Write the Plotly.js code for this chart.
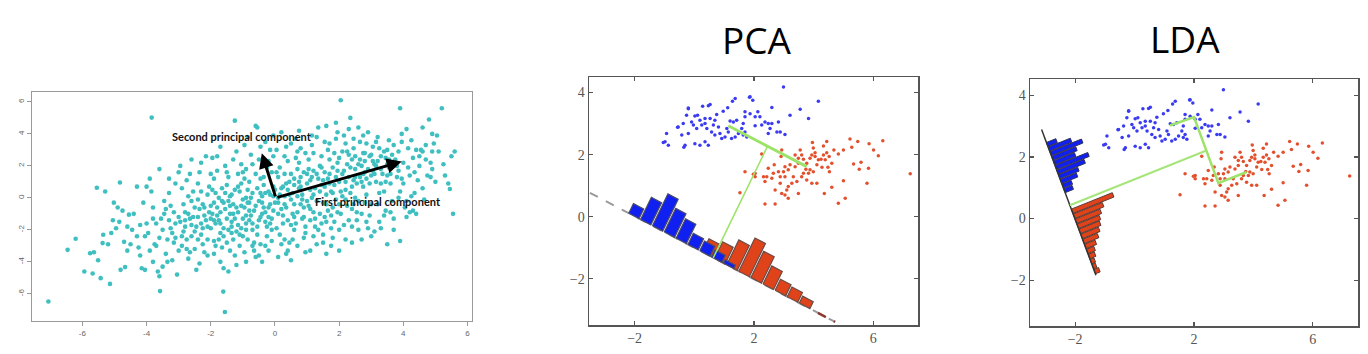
<!DOCTYPE html>
<html>
<head>
<meta charset="utf-8">
<script src="https://cdn.plot.ly/plotly-3.0.1.min.js"></script>
<style>html,body{margin:0;padding:0;background:#fff;}#chart{width:1368px;height:354px;}</style>
</head>
<body>
<div id="chart"></div>
<script>
// ---------- DATA ----------
// Left panel: correlated 2-D cloud (x, y)
const cloudPoints = [
[-7.06,-6.48],[-6.46,-3.25],[-6.21,-2.56],[-5.94,-4.6],[-5.76,-3.46],[-5.64,-3.4],[-5.51,-3.9],[-5.68,-4.73],[-5.43,-5.02],[-5.14,-5.38],[-5.55,0.63],[-5.29,0.4],[-5.37,-2.83],[-5.35,-2.31],[-5.2,-2.9],[-5.05,-1.4],[-5.02,-0.3],[-5.1,-2.2],
[-4.83,0.96],[-4.81,-4.5],[-4.67,-4.33],[-4.9,-0.6],[-4.75,-0.8],[-4.7,-2.75],[-4.6,-1.8],[-4.85,-1.5],[-4.55,-1.05],[-4.4,-1.0],[-4.3,0.7],[-4.25,-3.1],[-4.2,-3.6],[-4.15,-4.4],[-4.05,-4.5],[-4.0,0.7],[-4.1,-0.3],[-4.45,-2.0],[-4.3,-2.4],[-4.95,-1.9],[-4.6,-3.3],[-4.05,-2.4],[-4.0,-1.6],
[-3.84,5.02],[-3.58,-5.83],[-3.9,1.2],[-3.85,0.4],[-3.8,-0.6],[-3.75,-2.9],[-3.7,-3.0],[-3.65,-4.6],[-3.6,1.8],[-3.55,-1.3],[-3.5,-2.0],[-3.45,-1.0],[-3.4,-3.5],[-3.35,-4.0],[-3.3,0.3],[-3.25,-0.5],[-3.2,-2.2],[-3.15,-2.8],[-3.1,-1.6],[-3.05,-4.8],[-3.0,-1.2],[-3.95,-2.2],[-3.9,-3.3],[-3.7,-1.6],[-3.45,-0.2],[-3.35,-2.6],[-3.2,-3.9],[-3.1,0.9],[-3.6,-4.9],[-3.8,-4.0],[-3.0,-3.3],[-3.25,-1.9],[-3.5,-4.3],[-3.15,-0.9],
[-2.95,2.0],[-2.9,0.6],[-2.85,-0.4],[-2.8,-1.8],[-2.75,-2.6],[-2.7,-3.8],[-2.65,1.5],[-2.6,-0.2],[-2.55,-1.2],[-2.5,-2.1],[-2.45,-4.5],[-2.4,0.9],[-2.35,-0.7],[-2.3,-1.6],[-2.25,-2.9],[-2.2,-3.4],[-2.15,2.6],[-2.1,0.2],[-2.05,-0.9],[-2.0,-1.9],[-2.9,-3.0],[-2.8,-0.9],[-2.7,0.1],[-2.6,-2.4],[-2.5,-3.2],[-2.4,-0.1],[-2.3,-2.3],[-2.2,-1.1],[-2.1,-2.6],[-2.0,-0.5],[-2.95,-1.5],[-2.85,-2.1],[-2.75,1.1],[-2.65,-1.3],[-2.55,0.4],[-2.45,-1.8],[-2.35,1.6],[-2.25,-0.4],[-2.15,-1.4],[-2.05,0.7],[-2.65,-3.4],[-2.35,-4.1],[-2.1,-3.6],
[-1.25,4.83],[-1.56,-7.14],[-1.61,-5.86],[-1.95,2.5],[-1.9,1.2],[-1.85,0.3],[-1.8,-0.6],[-1.75,-1.4],[-1.7,-2.2],[-1.65,-3.1],[-1.6,-4.4],[-1.55,2.0],[-1.5,0.8],[-1.45,-0.2],[-1.4,-1.0],[-1.35,-1.8],[-1.3,-2.6],[-1.25,-3.6],[-1.2,2.9],[-1.15,1.5],[-1.1,0.4],[-1.05,-0.5],[-1.0,-1.3],[-1.95,-1.0],[-1.9,-2.7],[-1.85,-1.6],[-1.8,1.7],[-1.75,0.0],[-1.7,-0.9],[-1.65,0.6],[-1.6,-1.9],[-1.55,-0.7],[-1.5,-2.8],[-1.45,1.3],[-1.4,-3.3],[-1.35,0.2],[-1.3,-0.4],[-1.25,-1.3],[-1.2,-2.1],[-1.15,-0.9],[-1.1,-3.0],[-1.05,0.9],[-1.0,-2.4],[-1.9,-3.5],[-1.7,-4.0],[-1.45,-4.6],[-1.2,-4.2],[-1.8,2.6],[-1.3,2.4],[-1.05,2.1],[-1.6,-0.3],[-1.35,-1.5],[-1.15,-1.7],
[-0.95,3.3],[-0.9,1.8],[-0.85,0.5],[-0.8,-0.3],[-0.75,-1.1],[-0.7,-2.0],[-0.65,-2.8],[-0.6,-3.7],[-0.55,4.4],[-0.5,2.4],[-0.45,1.2],[-0.4,0.1],[-0.35,-0.6],[-0.3,-1.5],[-0.25,-2.4],[-0.2,-3.3],[-0.15,3.0],[-0.1,1.6],[-0.05,0.7],[0.0,-0.3],[-0.95,-0.6],[-0.9,-1.6],[-0.85,-2.6],[-0.8,1.0],[-0.75,2.7],[-0.7,0.3],[-0.65,-0.8],[-0.6,1.5],[-0.55,-1.8],[-0.5,-0.2],[-0.45,-2.9],[-0.4,2.0],[-0.35,0.8],[-0.3,-0.9],[-0.25,1.9],[-0.2,-1.2],[-0.15,0.2],[-0.1,-2.0],[-0.05,-0.8],[-0.95,-3.4],[-0.7,-3.0],[-0.5,-3.6],[-0.3,-3.0],[-0.1,-2.7],[-0.6,4.5],[-0.3,3.5],[-0.05,2.6],[-0.9,0.0],[-0.55,0.6],[-0.2,0.4],[-0.8,-1.4],[-0.45,-1.2],[-0.15,-1.6],
[0.05,3.0],[0.1,1.3],[0.15,0.2],[0.2,-0.7],[0.25,-1.6],[0.3,-2.6],[0.35,-3.5],[0.4,2.3],[0.45,1.0],[0.5,-0.1],[0.55,-1.0],[0.6,-2.0],[0.65,3.7],[0.7,1.8],[0.75,0.6],[0.8,-0.4],[0.85,-1.3],[0.9,-2.5],[0.95,2.8],[1.0,0.9],[0.05,-1.9],[0.1,-0.3],[0.15,1.9],[0.2,-2.9],[0.25,0.7],[0.3,2.6],[0.35,-0.6],[0.4,-1.4],[0.45,-2.8],[0.5,1.5],[0.55,0.3],[0.6,-0.4],[0.65,-1.6],[0.7,-0.9],[0.75,2.2],[0.8,1.3],[0.85,0.2],[0.9,-0.6],[0.95,-1.8],[1.0,-0.2],[0.2,4.1],[0.5,3.4],[0.8,3.1],[0.1,-3.7],[0.4,-3.3],[0.7,-3.0],[0.95,-3.4],[0.3,0.1],[0.6,0.8],[0.9,1.6],
[1.05,2.4],[1.1,1.1],[1.15,0.0],[1.2,-0.9],[1.25,-1.8],[1.3,-2.9],[1.35,4.4],[1.4,2.0],[1.45,0.8],[1.5,-0.3],[1.55,-1.2],[1.6,-3.5],[1.65,3.0],[1.7,1.5],[1.75,0.4],[1.8,-0.6],[1.85,-1.5],[1.9,3.7],[1.95,2.2],[2.0,1.0],[1.05,-0.5],[1.1,-1.4],[1.15,3.3],[1.2,1.7],[1.25,0.6],[1.3,-0.2],[1.35,1.2],[1.4,-1.0],[1.45,2.6],[1.5,-2.3],[1.55,1.6],[1.6,0.2],[1.65,-0.8],[1.7,2.4],[1.75,-1.9],[1.8,1.9],[1.85,0.8],[1.9,-0.1],[1.95,-0.9],[2.0,-2.0],[1.3,3.8],[1.6,4.5],[1.9,4.7],[1.2,-2.4],[1.5,-2.8],[1.8,-2.5],[1.45,-1.6],[1.75,-1.1],
[2.05,6.1],[2.1,2.9],[2.15,1.7],[2.2,0.5],[2.25,-0.5],[2.3,-1.4],[2.35,5.0],[2.4,2.4],[2.45,1.1],[2.5,0.0],[2.55,-0.9],[2.6,-2.0],[2.65,3.5],[2.7,2.0],[2.75,0.7],[2.8,-0.3],[2.85,-1.5],[2.9,4.1],[2.95,2.6],[3.0,1.4],[2.05,-1.0],[2.1,0.1],[2.15,3.9],[2.2,-2.6],[2.25,2.1],[2.3,1.3],[2.35,0.3],[2.4,-0.7],[2.45,3.1],[2.5,1.8],[2.55,0.9],[2.6,-0.2],[2.65,1.3],[2.7,-1.0],[2.75,2.8],[2.8,1.6],[2.85,0.2],[2.9,-1.9],[2.95,0.9],[3.0,-0.4],[2.3,4.3],[2.6,4.4],[2.85,3.4],[2.4,-1.8],[2.7,-2.6],[3.0,-2.4],[2.2,-0.1],[2.5,2.6],[2.8,2.3],
[3.05,3.2],[3.1,2.1],[3.15,1.0],[3.2,-0.4],[3.25,-1.5],[3.3,2.6],[3.35,1.5],[3.4,0.4],[3.45,-0.8],[3.5,3.0],[3.55,1.9],[3.6,0.9],[3.65,-0.2],[3.7,-1.3],[3.75,2.4],[3.8,1.3],[3.85,0.0],[3.9,5.6],[3.95,3.5],[4.0,2.2],[3.1,-2.1],[3.2,3.8],[3.3,0.9],[3.4,-1.1],[3.5,2.1],[3.6,-0.9],[3.7,3.3],[3.8,2.0],[3.9,0.4],[3.5,-2.9],[3.9,-2.7],[3.25,0.3],[3.6,1.5],[3.05,1.7],[3.85,2.9],[3.45,2.5],
[4.1,4.3],[4.15,3.1],[4.2,1.4],[4.25,0.1],[4.3,-0.8],[4.4,3.0],[4.5,2.0],[4.6,0.6],[4.7,3.3],[4.8,4.9],[4.85,2.2],[4.9,4.0],[4.95,3.4],[5.0,1.0],[5.2,5.6],[5.25,2.1],[5.4,0.9],[5.5,2.6],[5.55,-1.0],[5.6,2.9],[5.45,0.55],[4.1,-1.2],[4.2,-0.9],[4.45,1.1],[4.6,2.9],[4.75,1.4],[4.85,1.3],[4.0,0.9],[4.3,2.5],[4.55,3.0],[4.05,-0.6],[4.35,0.3],[4.65,-0.1],[5.05,3.9],[4.25,3.6],[4.15,1.9],
[-2.8,-1.4],[-2.6,-1.7],[-2.4,-2.6],[-2.2,-0.6],[-2.0,-1.3],[-1.9,-0.3],[-1.8,-1.1],[-1.7,-1.6],[-1.6,-2.4],[-1.5,-1.3],[-1.4,0.1],[-1.3,-1.0],[-1.2,-0.6],[-1.1,-2.3],[-1.0,-0.1],[-0.9,-2.0],[-0.8,-0.8],[-0.7,-1.6],[-0.6,-0.5],[-0.5,-1.4],[-0.4,-0.3],[-0.3,0.3],[-0.2,-0.6],[-0.1,-1.3],[0.0,0.5],[0.1,-1.0],[0.2,0.6],[0.3,-0.4],[0.4,0.5],[0.5,-1.7],[0.6,1.2],[0.7,0.1],[0.8,0.7],[0.9,-1.2],[1.0,1.5],[1.1,0.5],[1.2,0.2],[1.3,1.5],[1.4,0.4],[1.5,1.1],[1.6,-0.4],[1.7,0.9],[1.8,0.3],[1.9,1.3],[2.0,2.5],[2.1,1.5],[2.2,1.0],[2.3,2.7],[2.4,0.7],[2.5,1.3],[2.6,2.1],[2.7,1.0],[2.8,2.8],[2.9,1.8],[3.0,2.7],[3.1,1.5],[3.2,2.3],[3.3,1.8],[3.4,2.9],[3.5,1.4],
[-2.9,-2.4],[-2.7,-1.0],[-2.5,-0.6],[-2.3,0.4],[-2.1,-1.8],[-1.95,0.5],[-1.75,-2.6],[-1.55,0.3],[-1.35,-2.2],[-1.15,0.7],[-0.95,1.2],[-0.75,0.0],[-0.55,-2.3],[-0.35,1.3],[-0.15,-0.4],[0.05,1.6],[0.25,-1.1],[0.45,0.2],[0.65,2.5],[0.85,-0.1],[1.05,1.8],[1.25,-1.3],[1.45,1.9],[1.65,1.2],[1.85,2.8],[2.05,0.4],[2.25,2.9],[2.45,-0.4],[2.65,2.4],[2.85,1.2],[3.05,2.3],[3.25,3.1],[3.45,1.0],[3.65,2.7],[3.85,1.7],
[-2.75,-3.2],[-2.25,-1.9],[-1.85,-3.0],[-1.45,-2.0],[-1.05,-1.9],[-0.65,-3.3],[-0.25,-1.8],[0.15,-2.3],[0.55,-2.6],[0.95,-2.2],[1.35,-2.0],[1.75,-3.0],[2.15,-1.7],[2.55,-1.4],[2.95,-1.1],[-0.85,3.8],[-0.45,3.2],[-0.05,3.9],[0.35,3.2],[0.75,4.2],[1.15,3.9],[1.55,3.5],[1.95,4.1],[2.45,3.7],[2.75,3.9],[3.15,3.5],[3.55,3.6],
[-3.3,-1.4],[-3.1,-2.5],[-3.4,-0.7],[-3.6,-2.5],[-3.8,-1.3],[-4.2,-1.7],[-4.5,-2.9],[-0.9,-4.0],[-0.4,-4.0],[0.5,-3.9],[1.1,-3.3],[2.0,-3.3],[2.4,-2.8],[3.3,-1.9],[3.7,-2.0],[4.4,-1.0],[4.1,-0.2],[4.35,1.6],[4.5,2.6],[4.7,2.4],[4.9,1.8],[5.1,2.9],[5.3,1.4],[3.95,4.0],[4.6,4.4],[4.9,2.9],
[-1.7,3.2],[-2.3,2.2],[-2.6,2.4],[-3.0,1.6],[-3.3,1.2],[-2.0,1.5],[-1.5,1.6],[-1.0,1.6],[-0.7,2.1],[-0.2,2.3],[0.3,1.5],[0.7,2.9],[1.2,2.8],[1.7,3.4],[2.2,3.4],[2.0,-0.4],[1.6,-1.5],[1.1,-0.7],[0.6,-1.2],[0.1,0.0],[-0.4,-1.0],[-0.9,-1.1],[-1.4,-0.5],[-1.9,-1.4],[-2.4,-1.2],[-1.65,-0.2],[-1.25,0.5],[-0.85,-0.3],[-0.45,0.3],[-0.05,0.1],[0.35,0.9],[0.75,1.0],[1.15,1.3],[1.55,0.7],[1.95,1.7],[2.35,1.9],[2.75,1.5],[3.15,2.0],[3.55,2.4],[3.95,1.2]
];
// principal component arrows: [tailX, tailY, tipX, tipY]
const pc1Arrow = [0.03, 0.0, 3.95, 2.27];
const pc2Arrow = [0.03, 0.0, -0.41, 2.79];
const leftXTicks = [-6,-4,-2,0,2,4,6];
const leftXTickText = ['-6','-4','-2','0','2','4','6'];
const leftYTicks = [-6,-4,-2,0,2,4,6];
const leftYTickText = ['-6','-4','-2','0','2','4','6'];

// Two-class data shared by the PCA and LDA panels
const bluePoints = [
[2.99,4.18],[4.16,3.72],[3.55,3.46],[3.21,3.27],[3.83,3.16],[2.6,3.52],[1.87,3.86],[1.96,3.75],[1.37,3.81],[1.28,3.72],[0.53,3.61],[0.47,3.57],[0.28,3.56],[-0.2,3.48],[-0.26,3.27],[0.02,3.24],[0.11,3.27],[0.75,3.29],[0.97,3.4],[1.12,3.51],[1.7,3.38],[1.87,3.32],[2.13,3.38],[2.04,3.22],[2.2,3.22],[1.7,3.22],[2.37,3.05],[2.48,3.0],[2.6,3.0],[2.82,3.05],[2.04,2.93],[1.64,3.0],[1.42,3.11],[1.31,3.05],[1.2,3.08],[1.59,2.84],[1.7,2.73],[1.76,2.57],[1.64,2.63],[2.48,2.68],[2.77,2.73],[2.88,2.73],[3.04,2.65],[-0.93,2.68],[-0.98,2.41],[-0.87,2.3],[-0.54,2.89],[-0.42,2.63],[-0.2,2.68],[-0.31,2.3],[0.02,2.35],[0.19,2.3],[0.47,2.3],[0.36,2.41],[-0.03,2.95],[0.08,2.84],[0.25,2.95],[0.36,3.0],[0.42,2.84],[0.58,2.73],[0.69,2.63],[0.86,2.68],[0.92,2.52],[1.03,2.57],[1.09,2.84],[1.14,2.73],[0.81,2.89],[0.64,2.95],[0.69,3.11],[0.53,3.16],[0.36,3.16],[0.19,3.11],[-0.09,3.05],[-0.37,3.0],[1.37,2.57],[1.25,2.52],[1.48,2.68],[2.26,2.95],[2.54,2.84],[1.85,3.85],[-1.04,2.39],[-0.35,2.24],[-0.56,2.88],[-0.2,3.5]
];
const redPoints = [
[5.22,2.5],[5.48,2.42],[5.86,2.35],[6.32,2.45],[6.01,2.15],[6.17,1.96],[7.24,1.38],[5.28,2.24],[5.0,2.15],[4.83,2.02],[4.44,2.42],[4.68,2.15],[4.44,2.06],[4.33,1.99],[4.25,1.85],[4.16,1.83],[4.39,1.83],[4.52,1.94],[4.61,1.72],[4.48,1.59],[4.28,1.59],[4.53,1.45],[3.99,2.21],[4.05,2.06],[3.94,1.99],[3.88,1.88],[4.05,1.94],[3.55,2.15],[3.6,1.99],[3.66,1.85],[3.49,1.72],[3.77,1.72],[3.74,1.53],[3.88,1.51],[3.99,1.45],[3.83,1.4],[3.66,1.4],[3.6,1.29],[3.77,1.18],[3.94,1.08],[4.11,1.08],[3.38,1.61],[3.21,1.67],[3.04,1.61],[3.15,1.51],[2.99,1.45],[2.82,1.45],[2.65,1.4],[2.68,1.67],[2.48,1.56],[2.43,1.29],[2.6,1.24],[2.88,1.29],[3.04,1.29],[3.32,1.29],[3.44,1.13],[3.27,1.08],[3.15,0.97],[3.1,0.86],[3.04,0.7],[3.15,0.59],[2.93,0.75],[2.71,0.86],[2.88,1.08],[2.37,1.13],[2.32,1.29],[2.04,1.4],[1.7,1.45],[1.53,0.77],[2.04,1.29],[2.71,0.41],[3.49,0.75],[4.11,1.67],[4.36,0.75],[4.61,0.95],[5.0,1.16],[5.06,0.59],[4.83,0.43],[5.34,1.7],[5.59,1.75],[5.53,1.53],[5.84,1.56],[5.79,1.08],[2.91,1.94],[2.93,2.15],[3.49,1.88],[3.38,1.99],[3.96,2.39],[4.33,2.28],[2.37,0.41],[1.98,1.37],[2.26,2.02]
];
// PCA panel: projection axis end points, class means, histogram bins along the axis
const pcaAxisStart = [-3.5, 0.77];
const pcaAxisEnd = [4.72, -3.39];
const pcaBlueMean = [1.14, 2.93];
const pcaRedMean = [3.77, 1.61];
const pcaBlueBinStart = 1.43, pcaBlueBinWidth = 0.445;
const pcaBlueCounts = [0.35, 0.8, 1.15, 0.85, 0.7, 0.4, 0.35, 0.25, 0.12];
const pcaRedBinStart = 4.2, pcaRedBinWidth = 0.455;
const pcaRedCounts = [0.48, 0.6, 0.9, 1.2, 0.95, 0.65, 0.4, 0.35, 0.25];
// LDA panel
const ldaAxisStart = [-3.13, 2.89];
const ldaAxisEnd = [-1.30, -1.84];
const ldaMeanPath = [[1.19,3.02],[2.0,3.29],[2.82,1.15],[3.77,1.51]];
const ldaMidpoint = [2.42, 2.21];
const ldaBlueBinStart = 0.44, ldaBlueBinWidth = 0.161;
const ldaBlueCounts = [0.34, 0.8, 1.14, 0.87, 0.76, 1.18, 0.98, 0.69, 0.58, 0.33, 0.3];
const ldaRedBinStart = 2.76, ldaRedBinWidth = 0.175;
const ldaRedCounts = [1.48, 1.05, 0.9, 0.8, 0.74, 0.64, 0.53, 0.38, 0.27, 0.22, 0.14, 0.12, 0.17];
const panelXTicks = [-2, 2, 6];
const panelYTicks = [-2, 0, 2, 4];

// ---------- helpers ----------
function axisFrame(a, b) {
  const dx = b[0]-a[0], dy = b[1]-a[1], L = Math.hypot(dx, dy);
  const d = [dx/L, dy/L];
  let n = [-d[1], d[0]];
  if (n[0] < 0) n = [-n[0], -n[1]];
  return {a, d, n, L};
}
function at(f, t, h) { return [f.a[0]+t*f.d[0]+h*f.n[0], f.a[1]+t*f.d[1]+h*f.n[1]]; }
function histPolys(f, start, width, counts, gap) {
  const xs = [], ys = [];
  counts.forEach((h, i) => {
    const t0 = start + i*width + gap, t1 = start + (i+1)*width - gap;
    [[t0,0],[t1,0],[t1,h],[t0,h],[t0,0]].forEach(p => { const q = at(f, p[0], p[1]); xs.push(q[0]); ys.push(q[1]); });
    xs.push(null); ys.push(null);
  });
  return {x: xs, y: ys};
}
function foot(f, p) {
  const t = (p[0]-f.a[0])*f.d[0] + (p[1]-f.a[1])*f.d[1];
  return at(f, t, 0);
}

const traces = [];
// left cloud
traces.push({type:'scatter', mode:'markers', x: cloudPoints.map(p=>p[0]), y: cloudPoints.map(p=>p[1]),
  marker:{color:'#3fbfbf', size:4.6}, xaxis:'x', yaxis:'y'});

// PCA panel
const pf = axisFrame(pcaAxisStart, pcaAxisEnd);
traces.push({type:'scatter', mode:'lines', x:[pcaAxisStart[0], pcaAxisEnd[0]], y:[pcaAxisStart[1], pcaAxisEnd[1]],
  line:{color:'#9a9a9a', width:2, dash:'dash'}, xaxis:'x2', yaxis:'y2'});
const pEndA = at(pf, pf.L*0.93, 0);
traces.push({type:'scatter', mode:'lines', x:[pEndA[0], pcaAxisEnd[0]], y:[pEndA[1], pcaAxisEnd[1]],
  line:{color:'#8a3a30', width:2.5, dash:'dash'}, xaxis:'x2', yaxis:'y2'});
traces.push({type:'scatter', mode:'markers', x: bluePoints.map(p=>p[0]), y: bluePoints.map(p=>p[1]),
  marker:{color:'#3b3bf2', size:3.5}, xaxis:'x2', yaxis:'y2'});
traces.push({type:'scatter', mode:'markers', x: redPoints.map(p=>p[0]), y: redPoints.map(p=>p[1]),
  marker:{color:'#e2502e', size:3.5}, xaxis:'x2', yaxis:'y2'});
const pr = histPolys(pf, pcaRedBinStart, pcaRedBinWidth, pcaRedCounts, 0.03);
traces.push({type:'scatter', mode:'lines', x: pr.x, y: pr.y, fill:'toself', fillcolor:'#e0431a',
  line:{color:'#6b4b45', width:1.2}, xaxis:'x2', yaxis:'y2'});
const pb = histPolys(pf, pcaBlueBinStart, pcaBlueBinWidth, pcaBlueCounts, 0.03);
traces.push({type:'scatter', mode:'lines', x: pb.x, y: pb.y, fill:'toself', fillcolor:'#1020f0',
  line:{color:'#4a4a6a', width:1.2}, xaxis:'x2', yaxis:'y2'});
const pMid = [(pcaBlueMean[0]+pcaRedMean[0])/2, (pcaBlueMean[1]+pcaRedMean[1])/2];
const pFoot = foot(pf, pMid);
traces.push({type:'scatter', mode:'lines', x:[pMid[0], pFoot[0]], y:[pMid[1], pFoot[1]],
  line:{color:'#9de36a', width:1.6}, xaxis:'x2', yaxis:'y2'});
traces.push({type:'scatter', mode:'lines', x:[pcaBlueMean[0], pcaRedMean[0]], y:[pcaBlueMean[1], pcaRedMean[1]],
  line:{color:'#9de36a', width:3}, xaxis:'x2', yaxis:'y2'});

// LDA panel
const lf = axisFrame(ldaAxisStart, ldaAxisEnd);
traces.push({type:'scatter', mode:'markers', x: bluePoints.map(p=>p[0]), y: bluePoints.map(p=>p[1]),
  marker:{color:'#3b3bf2', size:3.5}, xaxis:'x3', yaxis:'y3'});
traces.push({type:'scatter', mode:'markers', x: redPoints.map(p=>p[0]), y: redPoints.map(p=>p[1]),
  marker:{color:'#e2502e', size:3.5}, xaxis:'x3', yaxis:'y3'});
const lr = histPolys(lf, ldaRedBinStart, ldaRedBinWidth, ldaRedCounts, 0.012);
traces.push({type:'scatter', mode:'lines', x: lr.x, y: lr.y, fill:'toself', fillcolor:'#e0431a',
  line:{color:'#5a3a32', width:1}, xaxis:'x3', yaxis:'y3'});
const lb = histPolys(lf, ldaBlueBinStart, ldaBlueBinWidth, ldaBlueCounts, 0.012);
traces.push({type:'scatter', mode:'lines', x: lb.x, y: lb.y, fill:'toself', fillcolor:'#1020f0',
  line:{color:'#30305a', width:1}, xaxis:'x3', yaxis:'y3'});
traces.push({type:'scatter', mode:'lines', x:[ldaAxisStart[0], ldaAxisEnd[0]], y:[ldaAxisStart[1], ldaAxisEnd[1]],
  line:{color:'#333', width:1.5}, xaxis:'x3', yaxis:'y3'});
const lFoot = foot(lf, ldaMidpoint);
traces.push({type:'scatter', mode:'lines', x:[ldaMidpoint[0], lFoot[0]], y:[ldaMidpoint[1], lFoot[1]],
  line:{color:'#a6e57a', width:2}, xaxis:'x3', yaxis:'y3'});
traces.push({type:'scatter', mode:'lines', x: ldaMeanPath.map(p=>p[0]), y: ldaMeanPath.map(p=>p[1]),
  line:{color:'#9de36a', width:2.5}, xaxis:'x3', yaxis:'y3'});

traces.forEach(t => { t.hoverinfo = 'skip'; t.showlegend = false; });

const W = 1368, H = 354;
const leftAxisFont = {family:'Liberation Sans', size:8, color:'#666'};
const panelFont = {family:'Liberation Serif', size:14, color:'#555'};
function panelAxis(extra) {
  return Object.assign({showgrid:false, zeroline:false, showline:true, linecolor:'#555', linewidth:1.5,
    mirror:'ticks', ticks:'inside', ticklen:4, tickwidth:1.2, tickcolor:'#555', tickfont:panelFont, fixedrange:true}, extra);
}
const layout = {
  width: W, height: H, margin:{l:0, r:0, t:0, b:0}, paper_bgcolor:'#fff', plot_bgcolor:'#fff', showlegend:false,
  xaxis: {domain:[32/W, 472/W], range:[-7.57, 6.14], anchor:'y', showgrid:false, zeroline:false, showline:true, mirror:true,
    linecolor:'#9a9a9a', linewidth:1.2, ticks:'outside', ticklen:4, tickcolor:'#9a9a9a', tickvals:leftXTicks, ticktext:leftXTickText, tickfont:leftAxisFont, fixedrange:true},
  yaxis: {domain:[1-321/H, 1-92/H], range:[-7.7, 6.62], anchor:'x', showgrid:false, zeroline:false, showline:true, mirror:true,
    linecolor:'#9a9a9a', linewidth:1.2, ticks:'outside', ticklen:4, tickcolor:'#9a9a9a', tickvals:leftYTicks, ticktext:leftYTickText, tickangle:-90, tickfont:leftAxisFont, fixedrange:true},
  xaxis2: panelAxis({domain:[589/W, 918/W], range:[-3.53, 7.5], anchor:'y2', tickvals:panelXTicks}),
  yaxis2: panelAxis({domain:[1-325/H, 1-77/H], range:[-3.49, 4.5], anchor:'x2', tickvals:panelYTicks}),
  xaxis3: panelAxis({domain:[1030/W, 1358/W], range:[-3.52, 7.52], anchor:'y3', tickvals:panelXTicks}),
  yaxis3: panelAxis({domain:[1-326/H, 1-79.3/H], range:[-3.49, 4.52], anchor:'x3', tickvals:panelYTicks}),
  annotations: [
    {xref:'paper', yref:'paper', x:757/W, y:1-39/H, text:'PCA', showarrow:false, xanchor:'center', yanchor:'middle',
      font:{family:'Open Sans, sans-serif', size:37, color:'#000'}},
    {xref:'paper', yref:'paper', x:1185/W, y:1-38/H, text:'LDA', showarrow:false, xanchor:'center', yanchor:'middle',
      font:{family:'Open Sans, sans-serif', size:37, color:'#000'}},
    {xref:'x', yref:'y', x:pc1Arrow[2], y:pc1Arrow[3], ax:pc1Arrow[0], ay:pc1Arrow[1], axref:'x', ayref:'y', text:'',
      showarrow:true, arrowhead:2, arrowsize:1, arrowwidth:3, arrowcolor:'#000'},
    {xref:'x', yref:'y', x:pc2Arrow[2], y:pc2Arrow[3], ax:pc2Arrow[0], ay:pc2Arrow[1], axref:'x', ayref:'y', text:'',
      showarrow:true, arrowhead:2, arrowsize:1, arrowwidth:3, arrowcolor:'#000'},
    {xref:'x', yref:'y', x:-1.03, y:3.81, text:'<b>Second principal component</b>', showarrow:false,
      font:{family:'Lato, sans-serif', size:11, color:'#111'}},
    {xref:'x', yref:'y', x:3.21, y:-0.25, text:'<b>First principal component</b>', showarrow:false,
      font:{family:'Lato, sans-serif', size:11, color:'#111'}}
  ]
};
Plotly.newPlot('chart', traces, layout, {staticPlot:true, displayModeBar:false});
</script>
</body>
</html>
